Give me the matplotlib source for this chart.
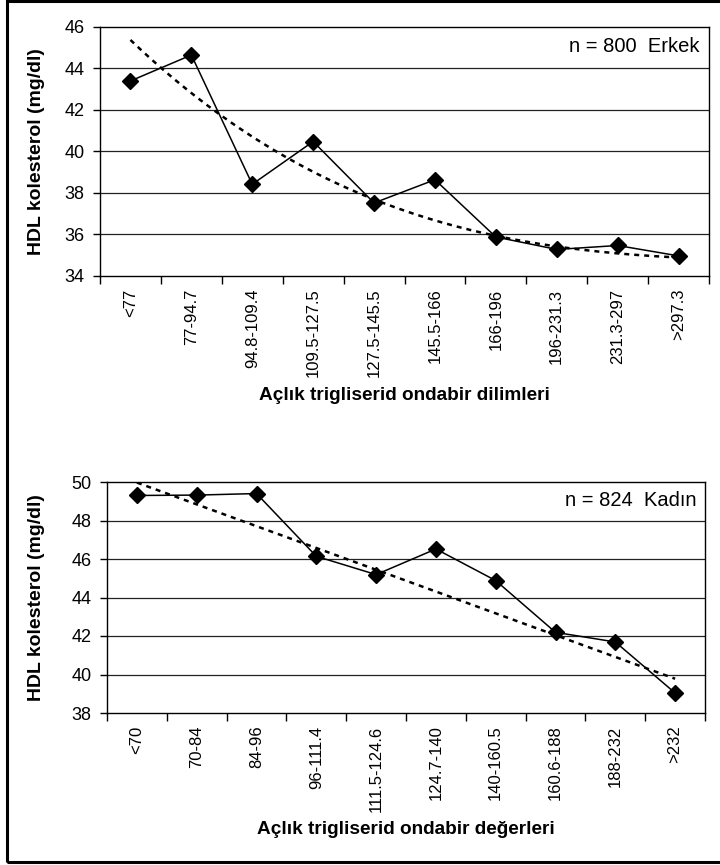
import numpy as np
import matplotlib
matplotlib.use("Agg")
import matplotlib.pyplot as plt
from matplotlib.patches import Rectangle

plt.rcParams["font.family"] = ["Liberation Sans", "DejaVu Sans"]

# men
men_labels = ["<77", "77-94.7", "94.8-109.4", "109.5-127.5", "127.5-145.5",
              "145.5-166", "166-196", "196-231.3", "231.3-297", ">297.3"]
men_hdl = [43.4, 44.65, 38.42, 40.48, 37.52, 38.64, 35.88, 35.28, 35.47, 34.97]
# trendline read at each category (polynomial in the original)
men_trend = [45.4, 42.9, 40.5, 38.95, 37.85, 36.85, 35.9, 35.3, 35.02, 34.97]

# women
women_labels = ["<70", "70-84", "84-96", "96-111.4", "111.5-124.6",
                "124.7-140", "140-160.5", "160.6-188", "188-232", ">232"]
women_hdl = [49.3, 49.32, 49.4, 46.14, 45.19, 46.52, 44.88, 42.19, 41.69, 39.04]
# linear trendline, value at first and last category
women_trend = [49.97, 39.78]


def draw_panel(ax, labels, values, trend, deg, ylim, note, xlabel):
    x = np.arange(1, len(values) + 1)
    ax.set_xlim(0.5, len(values) + 0.5)
    ax.set_ylim(*ylim)
    ax.set_yticks(np.arange(ylim[0], ylim[1] + 0.1, 2))
    for yv in np.arange(ylim[0] + 2, ylim[1], 2):
        ax.axhline(yv, color="#222222", lw=0.9, zorder=1)

    # smooth dashed trendline through the read values
    xt = np.linspace(1, len(values), len(trend))
    coef = np.polyfit(xt, trend, deg)
    xs = np.linspace(1, len(values), 200)
    ax.plot(xs, np.polyval(coef, xs), color="black", lw=1.8,
            linestyle=(0, (2, 2)), zorder=2)

    ax.plot(x, values, color="black", lw=1.1, marker="D", ms=8.5,
            mfc="black", mec="black", zorder=3)

    # ticks between categories, labels at centres
    ax.set_xticks(np.arange(0.5, len(values) + 1, 1))
    ax.set_xticklabels([])
    ax.set_xticks(x, minor=True)
    ax.set_xticklabels(labels, minor=True, rotation=90, fontsize=12)
    ax.tick_params(axis="x", which="minor", length=0, pad=9)
    ax.tick_params(axis="x", which="major", length=6, width=1, direction="out")
    ax.tick_params(axis="y", labelsize=13, length=5, width=1, pad=6)

    for sp in ax.spines.values():
        sp.set_linewidth(1.0)
        sp.set_color("black")

    ax.set_ylabel("HDL kolesterol (mg/dl)", fontsize=14, fontweight="bold")
    ax.set_xlabel(xlabel, fontsize=13.7, fontweight="bold", labelpad=7)
    ax.text(0.985, 0.92, note, transform=ax.transAxes, ha="right", va="center",
            fontsize=14.5)


fig = plt.figure(figsize=(7.2, 8.65), dpi=100)

ax1 = fig.add_axes([100 / 720, 1 - 276 / 865, 609 / 720, 249 / 865])
draw_panel(ax1, men_labels, men_hdl, men_trend, 3, (34, 46),
           "n = 800  Erkek", "Açlık trigliserid ondabir dilimleri")

ax2 = fig.add_axes([107 / 720, 1 - 713 / 865, 598 / 720, 231 / 865])
draw_panel(ax2, women_labels, women_hdl, women_trend, 1, (38, 50),
           "n = 824  Kadın", "Açlık trigliserid ondabir değerleri")

ax1.yaxis.set_label_coords(-0.090, 0.5)
ax2.yaxis.set_label_coords(-0.104, 0.5)

# frame around the whole figure
fig.patches.append(Rectangle((7 / 720, 3 / 865), 720 / 720, 861 / 865,
                             transform=fig.transFigure, fill=False,
                             edgecolor="black", lw=2.2))

fig.savefig("out.png", dpi=100, facecolor="white")
